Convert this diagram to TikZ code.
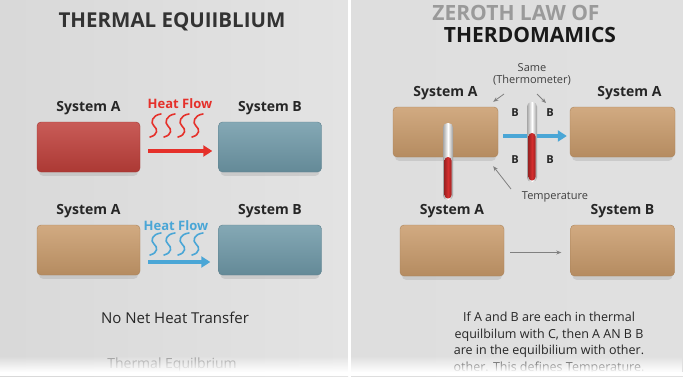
\documentclass[tikz,border=0pt]{standalone}
\usepackage{fontspec}
\setmainfont{Open Sans}
\usetikzlibrary{arrows.meta,shadows,fadings,positioning}
\definecolor{hotred}{HTML}{BF3F3A}
\definecolor{coolblue}{HTML}{6F99A8}
\definecolor{warmtan}{HTML}{C99B6B}
\definecolor{flowred}{HTML}{E5302A}
\definecolor{flowblue}{HTML}{4AA6D6}
\definecolor{inkgray}{HTML}{333333}
\definecolor{paleink}{HTML}{9A9A9A}
\definecolor{mercury}{HTML}{D42E2E}
\tikzfading[name=fadeup, top color=transparent!100, bottom color=transparent!0]
\newcommand{\thermo}[4]{% x, top, bottom, red top
  \shade[left color=black!35, right color=black!40, middle color=white, rounded corners=4.5pt]
    (#1-5,#2) rectangle (#1+5,#3);
  \shade[left color=mercury!75!black, right color=mercury!75!black, middle color=mercury, rounded corners=3.5pt]
    (#1-3.5,#4) rectangle (#1+3.5,#3-1.5);
}
\begin{document}
\begin{tikzpicture}[x=1pt,y=-1pt,
  sysbox/.style={rounded corners=4pt, minimum width=103pt, minimum height=50pt,
    top color=#1!85!white, bottom color=#1!90!black, draw=#1!85!black,
    drop shadow={opacity=.22, shadow xshift=0pt, shadow yshift=-5pt, shadow scale=.96}},
  syslabel/.style={font=\fontsize{14}{16}\selectfont\bfseries, text=black!85},
  flowlabel/.style={font=\fontsize{13}{15}\selectfont\bfseries, text=#1},
  flowarrow/.style={draw=#1, line width=4pt, -{Triangle[length=9pt,width=11pt]}},
  squiggle/.style={draw=#1, line width=1.6pt, line cap=round},
  pointer/.style={draw=black!50, line width=.8pt, -{Stealth[length=5pt,width=4pt]}},
  note/.style={font=\fontsize{11}{12}\selectfont, text=black!75},
  blabel/.style={font=\fontsize{11}{12}\selectfont\bfseries, text=black!85}
]
\useasboundingbox (0,0) rectangle (683,376);
% background panels
\shade[left color=black!15, middle color=black!5, right color=black!11] (0,0) rectangle (348,376);
\shade[left color=black!13, middle color=black!5, right color=black!12] (351,0) rectangle (683,376);
\fill[white] (348,0) rectangle (351,376);

% left panel
\node[font=\fontsize{20.5}{22}\selectfont\bfseries, text=inkgray] (titleL) at (172,22) {THERMAL EQUIIBLIUM};

\node[sysbox=hotred] (A1) at (88.5,147) {};
\node[sysbox=coolblue] (B1) at (270,147) {};
\node[syslabel, above=3pt of A1] (labA1) {System A};
\node[syslabel, above=3pt of B1] (labB1) {System B};
\node[flowlabel=flowred] (hf1) at (180,104) {Heat Flow};
\foreach \x in {150,164,178,192}
  \draw[squiggle=flowred] (\x,137) .. controls (\x+8,135) and (\x+8,129) .. (\x+4,126)
    .. controls (\x,123) and (\x+2,115) .. (\x+11,114);
\draw[flowarrow=flowred, shorten <=8pt, shorten >=6pt] ([yshift=-4pt]A1.east) -- ([yshift=-4pt]B1.west);

\node[sysbox=warmtan] (A2) at (88.5,250) {};
\node[sysbox=coolblue] (B2) at (270,250) {};
\node[syslabel, above=3pt of A2] (labA2) {System A};
\node[syslabel, above=3pt of B2] (labB2) {System B};
\node[flowlabel=flowblue] (hf2) at (176,226) {Heat Flow};
\foreach \x in {150,164,178,192}
  \draw[squiggle=flowblue] (\x,255) .. controls (\x+8,253) and (\x+8,247) .. (\x+4,244)
    .. controls (\x,241) and (\x+2,234) .. (\x+11,233);
\draw[flowarrow=flowblue, shorten <=8pt, shorten >=8pt] ([yshift=-12pt]A2.east) -- ([yshift=-12pt]B2.west);

\node[font=\fontsize{15}{17}\selectfont, text=black!85] (nonet) at (175,318) {No Net Heat Transfer};
\node[font=\fontsize{14}{16}\selectfont, text=paleink] (capL) at (172,365) {Thermal Equilbrium};

% right panel
\node[font=\fontsize{21}{23}\selectfont\bfseries, text=paleink, inner sep=1pt] (titleR1) at (516,13) {ZEROTH LAW OF};
\node[font=\fontsize{21}{23}\selectfont\bfseries, text=black!90, inner sep=1pt] (titleR2) at (530,35) {THERDOMAMICS};

\node[sysbox=warmtan, minimum width=105pt] (C1) at (445.5,132) {};
\node[sysbox=warmtan, minimum width=105pt] (C2) at (622.5,132) {};
\node[syslabel, above=3pt of C1] (labC1) {System A};
\node[syslabel, above=3pt of C2, xshift=7pt] (labC2) {System A};
\draw[flowarrow=flowblue, line width=3.5pt, shorten <=5pt, shorten >=3pt] ([yshift=-4pt]C1.east) -- ([yshift=-4pt]C2.west);
\thermo{532}{102}{182}{133}
\thermo{448}{123}{200}{157}
\node[blabel] (b1) at (515,113) {B};
\node[blabel] (b2) at (550,113) {B};
\node[blabel] (b3) at (515,160) {B};
\node[blabel] (b4) at (550,160) {B};

\node[note, align=center] (same) at (532,74) {Same\\(Thermometer)};
\coordinate (sameLtail) at (504,94);
\coordinate (sameRtail) at (537,94);
\coordinate (sameRtip) at (546,103);
\draw[pointer] (sameLtail) -- ([shift={(-5,-5)}]C1.north east);
\draw[pointer] (sameRtail) -- (sameRtip);
\node[note] (temp) at (555,197) {Temperature};
\coordinate (tempTail) at (511,189);
\draw[pointer] (tempTail) -- ([shift={(-5,9)}]C1.south east);

\node[sysbox=warmtan, minimum width=104pt, minimum height=51pt] (D1) at (452,250.5) {};
\node[sysbox=warmtan, minimum width=104pt, minimum height=51pt] (D2) at (622.5,250.5) {};
\node[syslabel, above=3pt of D1] (labD1) {System A};
\node[syslabel, above=3pt of D2] (labD2) {System B};
\draw[pointer, line width=.7pt, shorten <=6pt, shorten >=9pt] ([yshift=-2pt]D1.east) -- ([yshift=-2pt]D2.west);

\node[font=\fontsize{12.5}{16.5}\selectfont, text=black!85, align=center] (ruleR) at (549,343)
  {If A and B are each in thermal\\equilbilum with C, then A AN B B\\are in the equilbilium with other.\\other. This defines Temperature.};

% fade to white at the bottom
\fill[white, path fading=fadeup] (0,356) rectangle (683,372);
\fill[white] (0,372) rectangle (683,376);
\end{tikzpicture}
\end{document}
